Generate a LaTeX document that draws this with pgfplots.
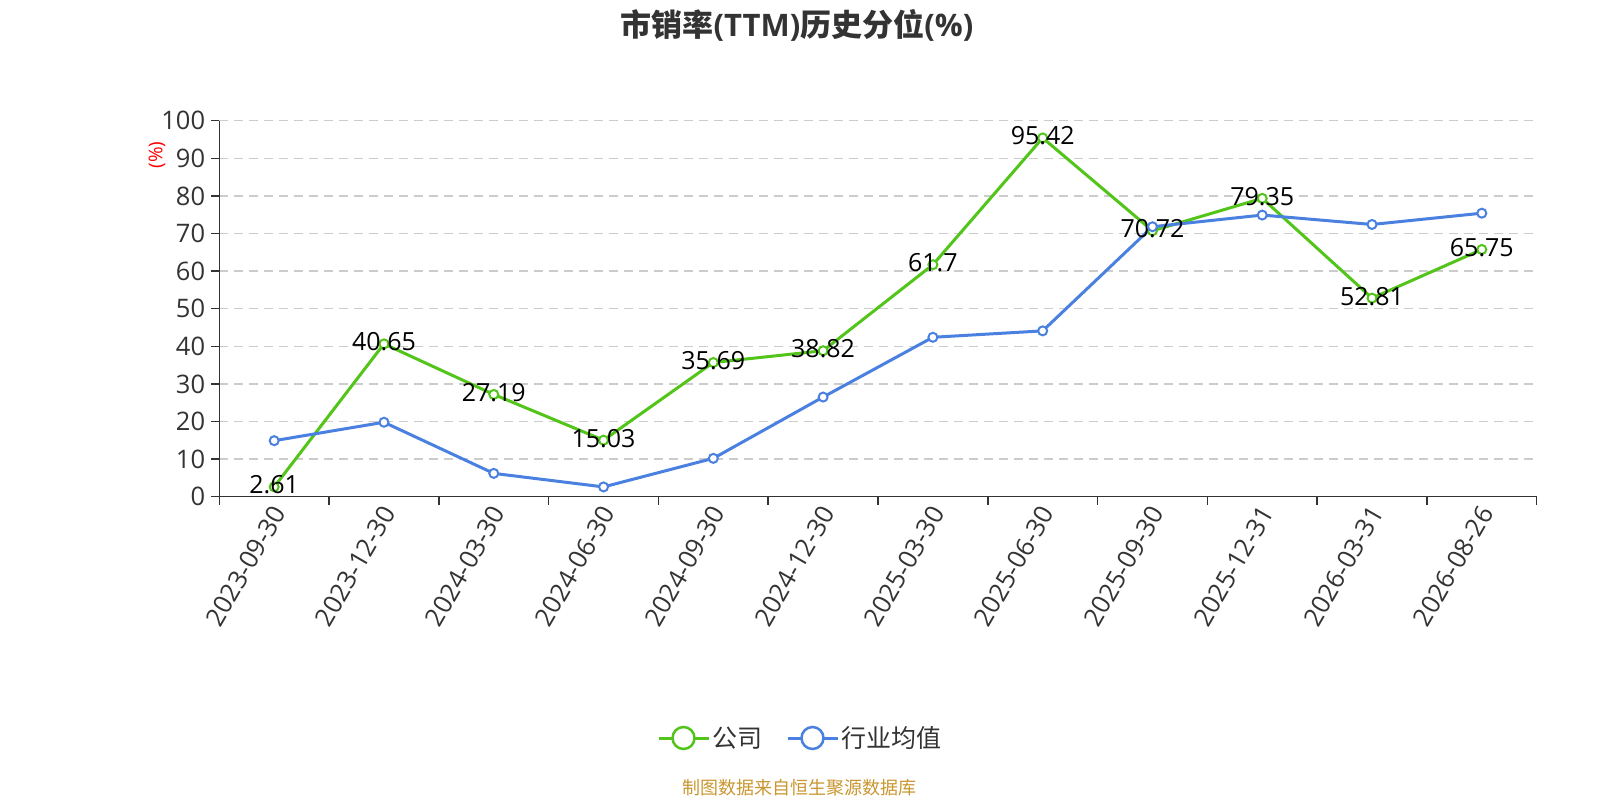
\documentclass[border=0pt]{standalone}
\usepackage{pgfplots}
\pgfplotsset{compat=1.18}
\usepackage{fontspec}
\setmainfont{Open Sans}
\newfontfamily\cjk{Noto Sans CJK SC}
\definecolor{cgreen}{HTML}{52C41A}
\definecolor{cblue}{HTML}{4A80E0}
\definecolor{ctext}{HTML}{333333}
\definecolor{cgrid}{HTML}{CCCCCC}
\definecolor{csrc}{HTML}{C9962F}
\begin{document}
\begin{tikzpicture}
\useasboundingbox (0bp,0bp) rectangle (1600bp,800bp);
\node[font=\fontsize{31bp}{36bp}\selectfont\bfseries, text=ctext] at (797bp,775bp) {{\cjk 市销率}(TTM){\cjk 历史分位}(\%)};
\begin{axis}[
  at={(219.3bp,303.3bp)}, anchor=south west, scale only axis,
  width=1317.4bp, height=376bp,
  xmin=-0.5, xmax=11.5, ymin=0, ymax=100,
  axis lines*=left,
  axis line style={ctext, line width=1.5bp, -},
  xtick={0,...,11},
  xticklabels={2023-09-30,2023-12-30,2024-03-30,2024-06-30,2024-09-30,2024-12-30,2025-03-30,2025-06-30,2025-09-30,2025-12-31,2026-03-31,2026-08-26},
  minor xtick={-0.5,0.5,...,11.5},
  ytick={0,10,...,100},
  tick align=outside,
  major tick length=8bp, minor tick length=8bp,
  major x tick style={draw=none},
  minor x tick style={draw=ctext, line width=1.5bp},
  major y tick style={draw=ctext, line width=1.5bp},
  ymajorgrids,
  grid style={cgrid, line width=1.5bp, dash pattern=on 9bp off 6bp},
  tick label style={font=\fontsize{25.5bp}{30bp}\selectfont, text=ctext},
  /pgf/number format/assume math mode=true,
  xticklabel style={rotate=60, anchor=east, inner sep=2bp, yshift=-6bp, xshift=1bp},
  yticklabel style={inner sep=2bp, xshift=-4bp},
  legend columns=2,
  legend style={at={(0.4408,-0.6418)}, anchor=center, draw=none, fill=none,
    font=\cjk\fontsize{25bp}{29bp}\selectfont, text=ctext,
    /tikz/every even column/.append style={column sep=22bp}},
  legend image code/.code={
    \draw[line width=3bp] (0bp,0bp) -- (50bp,0bp);
    \draw[line width=2.5bp, fill=white] (25bp,0bp) circle (11bp);
  },
]
\addplot[color=cgreen, line width=3bp, mark=*, mark size=4.5bp,
  mark options={fill=white, line width=2bp},
  nodes near coords, point meta=explicit symbolic,
  every node near coord/.append style={anchor=center, yshift=2bp,
    font=\fontsize{25bp}{29bp}\selectfont, text=black}]
  coordinates {
  (0,2.61) [2.61]
  (1,40.65) [40.65]
  (2,27.19) [27.19]
  (3,15.03) [15.03]
  (4,35.69) [35.69]
  (5,38.82) [38.82]
  (6,61.7) [61.7]
  (7,95.42) [95.42]
  (8,70.72) [70.72]
  (9,79.35) [79.35]
  (10,52.81) [52.81]
  (11,65.75) [65.75]
  };
\addlegendentry{公司}
\addplot[color=cblue, line width=3bp, mark=*, mark size=4.5bp,
  mark options={fill=white, line width=2bp}]
  coordinates {
  (0,14.9) (1,19.8) (2,6.2) (3,2.6) (4,10.2) (5,26.5)
  (6,42.4) (7,44.1) (8,71.8) (9,74.9) (10,72.4) (11,75.4)
  };
\addlegendentry{行业均值}
\end{axis}
\node[rotate=90, text=red, font=\fontsize{19bp}{22bp}\selectfont] at (157bp,645bp) {(\%)};
\node[font=\cjk\fontsize{18bp}{22bp}\selectfont, text=csrc] at (799bp,12bp) {制图数据来自恒生聚源数据库};
\end{tikzpicture}
\end{document}
